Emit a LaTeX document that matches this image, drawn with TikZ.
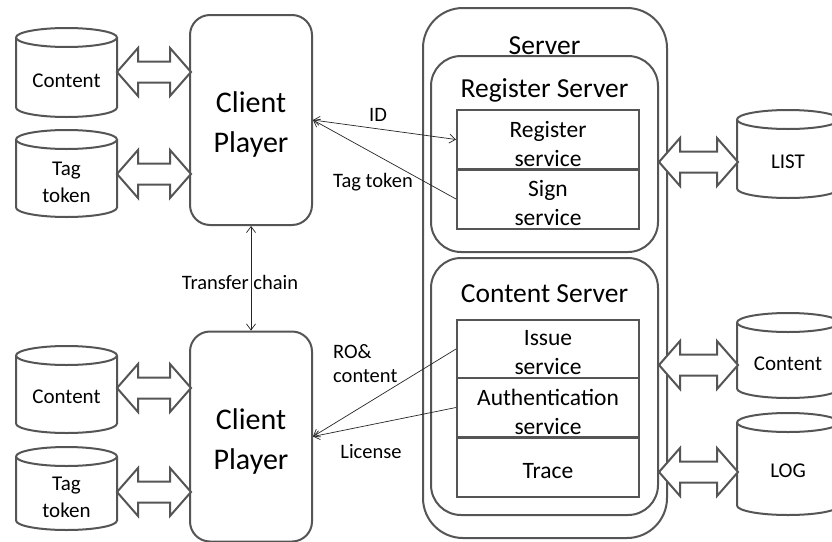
\documentclass[tikz,border=0pt]{standalone}
\usepackage{fontspec}
\setmainfont{Carlito}
\usetikzlibrary{arrows.meta}
\definecolor{ln}{RGB}{85,85,85}
\newcommand\mycyl[7]{% x1 y1 x2 y2 name text texty
  \pgfmathsetmacro\cx{(#1+#3)/2}
  \pgfmathsetmacro\rx{(#3-#1)/2}
  \filldraw[cylline] (#1,#2+9.5) -- (#1,#4-9.5) arc[start angle=180,end angle=0,x radius=\rx,y radius=9.5]
     -- (#3,#2+9.5) arc[start angle=0,end angle=-180,x radius=\rx,y radius=9.5] -- cycle;
  \draw[cylline] (#1,#2+9.5) arc[start angle=180,end angle=0,x radius=\rx,y radius=9.5];
  \node[cyltext] (#5) at (\cx,#7) {#6};
}
\newcommand\dblarrow[3]{% x1 x2 yc
  \filldraw[arrline] (#1,#3) -- (#1+21,#3-24) -- (#1+21,#3-10.5) -- (#2-21,#3-10.5) -- (#2-21,#3-24)
     -- (#2,#3) -- (#2-21,#3+24) -- (#2-21,#3+10.5) -- (#1+21,#3+10.5) -- (#1+21,#3+24) -- cycle;
}
\tikzset{
  cylline/.style={draw=ln,line width=2pt,fill=white},
  arrline/.style={draw=ln,line width=2pt,fill=white,line join=miter},
  cyltext/.style={align=center,inner sep=0pt,font=\fontsize{21}{27}\selectfont},
  player/.style={draw=ln,line width=2pt,fill=white,rounded corners=20pt,minimum width=122pt,minimum height=210pt,inner sep=0pt},
  playertext/.style={align=center,inner sep=0pt,font=\fontsize{30}{40}\selectfont},
  svc/.style={draw=ln,line width=2pt,fill=white,minimum width=182pt,minimum height=59pt,inner sep=0pt},
  svctext/.style={align=center,inner sep=0pt,font=\fontsize{23.5}{29}\selectfont},
  bigtitle/.style={inner sep=0pt,font=\fontsize{27.5}{33}\selectfont},
  lbl/.style={inner sep=0pt,align=left,font=\fontsize{20.5}{24}\selectfont},
  conn/.style={draw=black!85,line width=0.7pt},
  >={Straight Barb[length=6pt,width=9pt]},
}
\begin{document}
\begin{tikzpicture}[x=1pt,y=-1pt]
\clip (0,0) rectangle (832,541);
\fill[white] (0,0) rectangle (832,541);
% server containers
\draw[draw=ln,line width=2pt,rounded corners=40pt] (423,8) rectangle (667,538);
\node[bigtitle] (srv) at (544.5,46) {Server};
\draw[draw=ln,line width=2pt,rounded corners=30pt] (431,56) rectangle (658,252);
\node[bigtitle] (rsrv) at (544.5,90.5) {Register Server};
\draw[draw=ln,line width=2pt,rounded corners=30pt] (431,258) rectangle (658,515);
\node[bigtitle] (csrv) at (544.5,294) {Content Server};
% services
\node[svc] (reg) at (548,139.5) {};
\node[svc] (sign) at (548,199) {};
\node[svc] (issue) at (548,349) {};
\node[svc] (auth) at (548,407.5) {};
\node[svc] (trace) at (548,467) {};
\node[svctext] (regt) at (548,144) {Register\\service};
\node[svctext] (signt) at (548,203) {Sign\\service};
\node[svctext] (issuet) at (548,353) {Issue\\service};
\node[svctext] (autht) at (548,411.5) {Authentication\\service};
\node[svctext] (tracet) at (548,471) {Trace};
% client players
\node[player] (cp1) at (251,120) {};
\node[player] (cp2) at (251,436.5) {};
\node[playertext] (cp1t) at (251,124.5) {Client\\Player};
\node[playertext] (cp2t) at (251,441.5) {Client\\Player};
% cylinders left
\mycyl{16}{28}{117}{117}{ct1}{Content}{81}
\mycyl{16}{130}{117}{217}{tt1}{Tag\\token}{182}
\mycyl{16}{346}{117}{433}{ct2}{Content}{397}
\mycyl{16}{447}{117}{530}{tt2}{Tag\\token}{497}
% cylinders right
\mycyl{737}{110}{839}{198}{list}{LIST}{162}
\mycyl{737}{313}{839}{398}{ctr}{Content}{364}
\mycyl{737}{413}{839}{515}{log}{LOG}{471}
% block arrows
\dblarrow{117}{191}{72}
\dblarrow{117}{191}{174}
\dblarrow{117}{191}{388}
\dblarrow{117}{191}{492}
\dblarrow{659}{738}{162}
\dblarrow{659}{738}{365}
\dblarrow{659}{738}{472}
% connectors
\draw[conn,<->] (cp1.east) -- (reg.west);
\draw[conn,->] (sign.west) -- (cp1.east);
\draw[conn,<->] (cp1.south) -- (cp2.north);
\draw[conn,->] (issue.west) -- (cp2.east);
\draw[conn,->] (auth.west) -- (cp2.east);
% labels
\node[lbl] (lid) at (378,115) {ID};
\node[lbl] (ltag) at (373,182) {Tag token};
\node[lbl] (ltc) at (240,282) {Transfer chain};
\node[lbl,anchor=west] (lro) at (333,364) {RO\&\\content};
\node[lbl] (llic) at (371,452) {License};
\end{tikzpicture}
\end{document}
